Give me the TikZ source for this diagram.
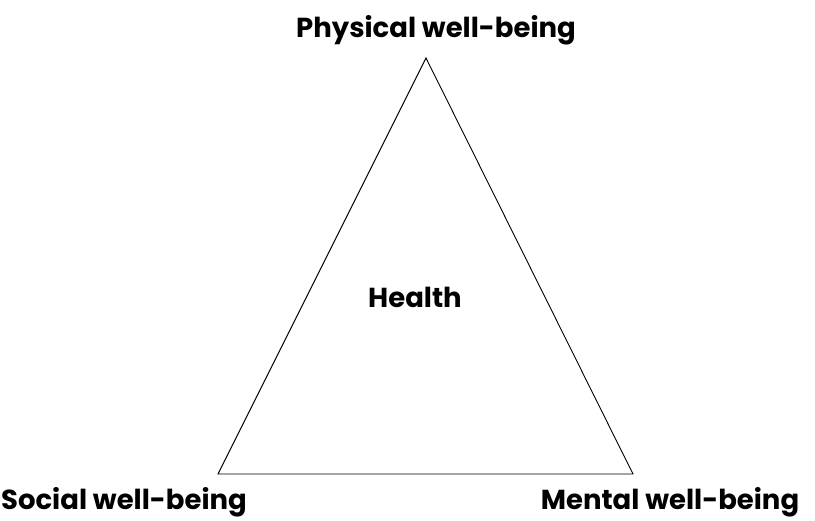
\documentclass[tikz,border=0pt]{standalone}
\usepackage{fontspec}
\setmainfont{Poppins}
\begin{document}
\begin{tikzpicture}[x=1pt,y=-1pt,
  label/.style={font=\bfseries\fontsize{27.5}{32}\selectfont, inner sep=0pt, anchor=base, text=black},
  side/.style={draw=black, line width=0.9pt, line join=miter}]
  \useasboundingbox (0,0) rectangle (815,521);
  % corners of the triangle
  \coordinate (top) at (426,58);
  \coordinate (bl) at (218,474);
  \coordinate (br) at (633,474);
  \draw[side] (top) -- (br) -- (bl) -- cycle;
  % labels, placed by their baselines
  \node[label] (phys) at (436,38) {Physical well-being};
  \node[label] (health) at (415,308) {Health};
  \node[label] (soc) at (124,510) {Social well-being};
  \node[label] (ment) at (670,510) {Mental well-being};
\end{tikzpicture}
\end{document}
